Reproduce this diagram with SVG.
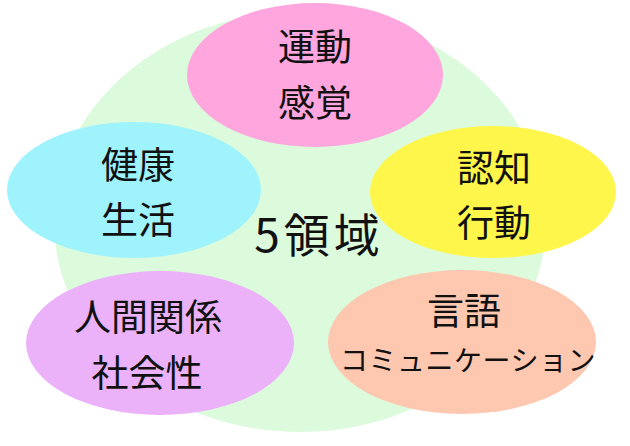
<svg xmlns="http://www.w3.org/2000/svg" width="630" height="446" viewBox="0 0 630 446">
<style>
  text { font-family: "Noto Sans CJK JP", "Noto Sans", sans-serif; fill: #111; text-anchor: middle; dominant-baseline: central; }
  .l { font-size: 37px; }
  .s { font-size: 28px; letter-spacing: 0.5px; }
  .c { font-size: 46px; letter-spacing: 4px; }
</style>
<rect width="630" height="446" fill="#ffffff"/>
<g id="center">
  <ellipse cx="300" cy="222" rx="246" ry="210" fill="#dcfadc"/>
  <text class="c" x="319" y="232">5領域</text>
</g>
<g id="undou">
  <ellipse cx="315" cy="75" rx="128" ry="72" fill="#ffa6df"/>
  <text class="l" x="315" y="45">運動</text>
  <text class="l" x="315" y="101">感覚</text>
</g>
<g id="kenkou">
  <ellipse cx="134" cy="190" rx="127" ry="68" fill="#9ff3fd"/>
  <text class="l" x="138" y="163">健康</text>
  <text class="l" x="138" y="218">生活</text>
</g>
<g id="ninchi">
  <ellipse cx="493" cy="192" rx="123" ry="66" fill="#fff64b"/>
  <text class="l" x="494" y="166">認知</text>
  <text class="l" x="494" y="221">行動</text>
</g>
<g id="ningen">
  <ellipse cx="160" cy="343" rx="134" ry="72" fill="#ebb1f9"/>
  <text class="l" x="148" y="315">人間関係</text>
  <text class="l" x="147" y="371">社会性</text>
</g>
<g id="gengo">
  <ellipse cx="462" cy="342" rx="134" ry="72" fill="#fec7b0"/>
  <text class="l" x="464" y="309">言語</text>
  <text class="s" x="468" y="359">コミュニケーション</text>
</g>
<g id="connectors"></g>
</svg>
